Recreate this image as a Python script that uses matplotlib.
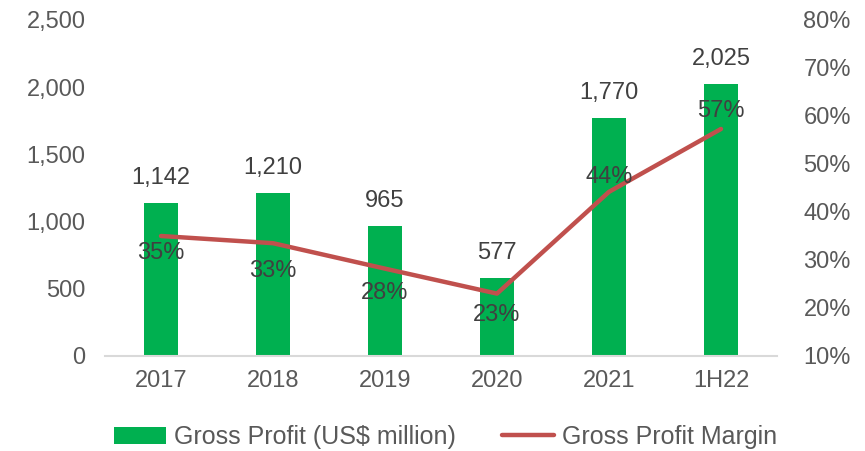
import matplotlib
matplotlib.use("Agg")
import matplotlib.pyplot as plt
import numpy as np

categories = ["2017", "2018", "2019", "2020", "2021", "1H22"]
gross_profit = [1142, 1210, 965, 577, 1770, 2025]
gross_margin = [35.0, 33.5, 28.2, 23.0, 44.2, 57.3]
margin_labels = ["35%", "33%", "28%", "23%", "44%", "57%"]
left_ticks = [0, 500, 1000, 1500, 2000, 2500]
right_ticks = [10, 20, 30, 40, 50, 60, 70, 80]

# label offsets in pixels (styling)
label_offsets = [-17, -28, -24, -21, 15, 18]

plt.rcParams['font.family'] = ['Liberation Sans', 'DejaVu Sans']
txt = "#595959"
fs = 17

fig = plt.figure(figsize=(8.65, 4.51), dpi=100)
ax = fig.add_axes([105/865, 1-356/451, 672/865, 336/451])
ax2 = ax.twinx()

x = np.arange(len(categories))
bars = ax.bar(x, gross_profit, width=0.31, color="#00b050", label="Gross Profit (US$ million)", zorder=2)
ax.set_xlim(-0.5, len(categories)-0.5)
ax.set_ylim(0, 2500)
ax.set_yticks(left_ticks)
ax.set_yticklabels([f"{v:,}" for v in left_ticks])
ax.set_xticks(x)
ax.set_xticklabels(categories)

for xi, v in zip(x, gross_profit):
    ax.annotate(f"{v:,}", (xi, v), xytext=(0, 25), textcoords="offset pixels",
                ha="center", va="center", fontsize=fs, color="#404040")

line, = ax2.plot(x, gross_margin, color="#c0504d", lw=3.2, label="Gross Profit Margin",
                 zorder=3, solid_capstyle="round", solid_joinstyle="round")
ax2.set_ylim(10, 80)
ax2.set_yticks(right_ticks)
ax2.set_yticklabels([f"{v}%" for v in right_ticks])
for xi, v, lab, off in zip(x, gross_margin, margin_labels, label_offsets):
    ax2.annotate(lab, (xi, v), xytext=(0, off), textcoords="offset pixels",
                 ha="center", va="center", fontsize=fs, color="#404040")

for a in (ax, ax2):
    for s in a.spines.values():
        s.set_visible(False)
    a.tick_params(length=0, labelsize=fs, colors=txt)
ax.spines['bottom'].set_visible(True)
ax.spines['bottom'].set_color("#d9d9d9")
ax.spines['bottom'].set_linewidth(1.5)
ax.tick_params(axis='y', pad=14)
ax.tick_params(axis='x', pad=10)
ax2.tick_params(axis='y', pad=19)

leg = fig.legend(handles=[bars, line], loc="center", bbox_to_anchor=(0.515, 1-437/451),
                 ncol=2, frameon=False, fontsize=18, handlelength=2.1, handletextpad=0.3,
                 columnspacing=1.85)
for t in leg.get_texts():
    t.set_color(txt)

fig.savefig("out.png", dpi=100)
